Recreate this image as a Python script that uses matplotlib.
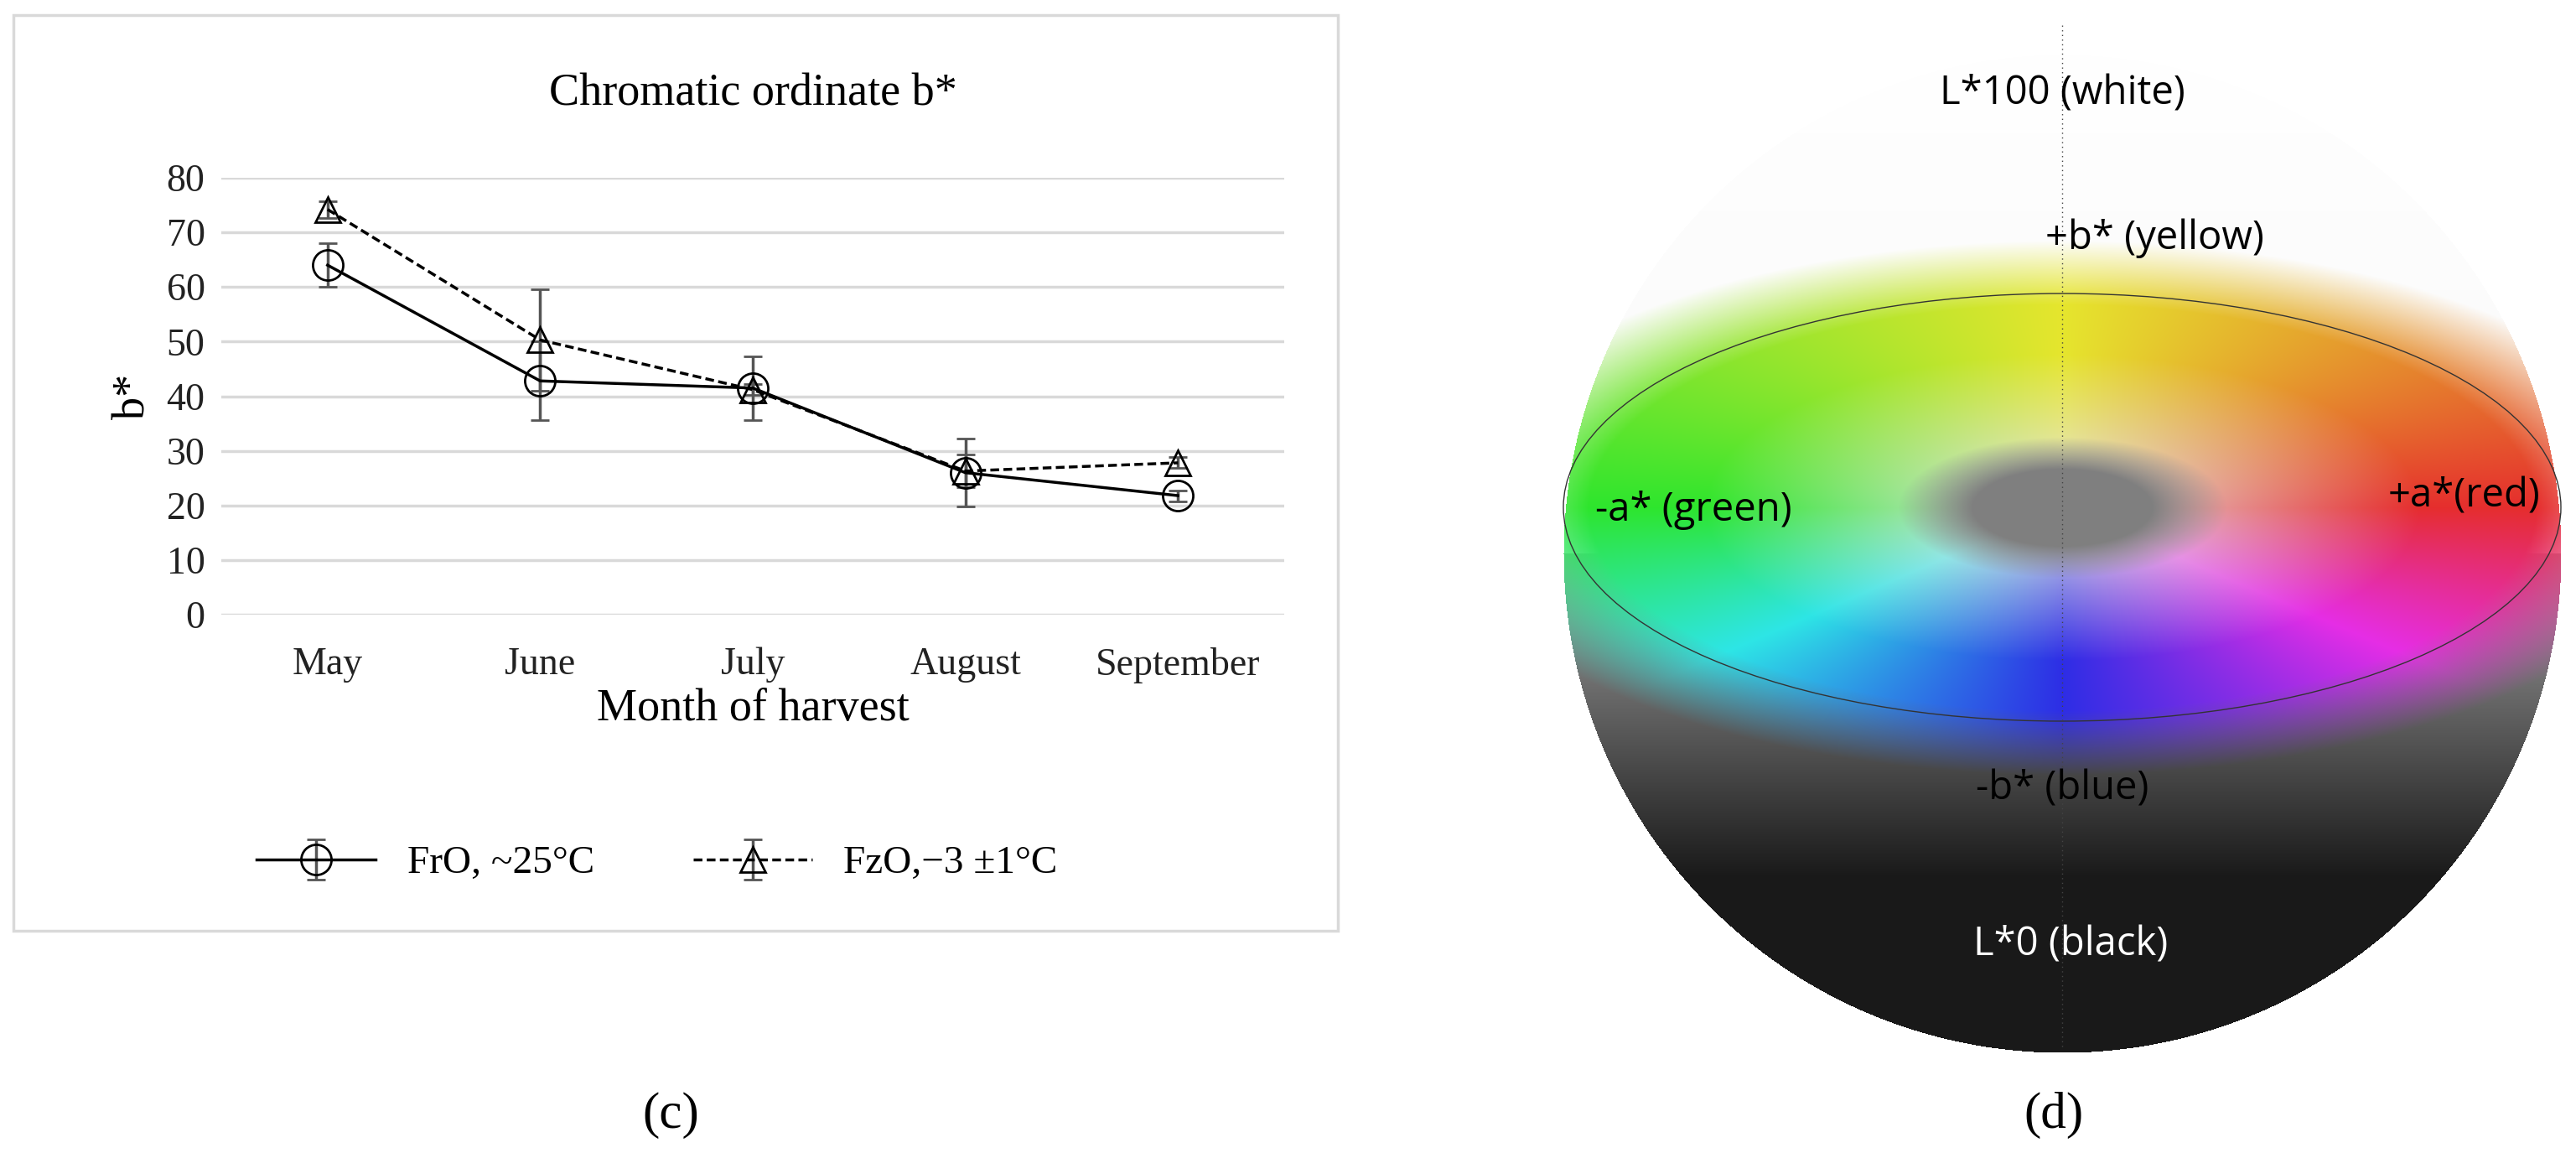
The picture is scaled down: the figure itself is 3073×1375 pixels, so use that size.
import numpy as np
import matplotlib.pyplot as plt
from matplotlib.colors import hsv_to_rgb
from matplotlib.patches import Ellipse

months = ["May", "June", "July", "August", "September"]
fro = [64, 42.8, 41.5, 26, 21.8]
fro_err = [4, 7.2, 5.8, 6.2, 1]
fzo = [74.2, 50.3, 41.2, 26.3, 27.8]
fzo_err = [1.5, 9.3, 1, 3, 1]

W, H = 3073, 1375
fig = plt.figure(figsize=(W / 100, H / 100), dpi=100)
serif = "Liberation Serif"

# panel (c) frame
bg = fig.add_axes([0, 0, 1, 1])
bg.set_xlim(0, W)
bg.set_ylim(H, 0)
bg.axis("off")
bg.add_patch(plt.Rectangle((16, 18), 1580, 1092, fill=False, ec="#d9d9d9", lw=2.5))

ax = fig.add_axes([264 / W, 1 - 733 / H, (1532 - 264) / W, (733 - 212) / H])
x = np.arange(len(months))
ax.errorbar(x, fro, yerr=fro_err, color="black", lw=2.5, marker="o", ms=26,
            mfc="none", mec="black", mew=2, ecolor="#555555", elinewidth=2.5,
            capsize=8, capthick=2.5, label="FrO, ~25°C", zorder=3)
ax.errorbar(x, fzo, yerr=fzo_err, color="black", lw=2.5, ls=(0, (3, 1.5)), marker="^",
            ms=22, mfc="none", mec="black", mew=2, ecolor="#555555", elinewidth=2.5,
            capsize=8, capthick=2.5, label="FzO,\u22123 \u00b11°C", zorder=3)
ax.set_xlim(-0.5, 4.5)
ax.set_ylim(0, 80)
ax.set_yticks(range(0, 81, 10))
ax.set_xticks(x)
ax.set_xticklabels(months)
ax.grid(axis="y", color="#d9d9d9", lw=2.5)
ax.set_axisbelow(True)
for s in ax.spines.values():
    s.set_visible(False)
ax.tick_params(length=0, labelsize=33, labelcolor="#222222", pad=14)
ax.tick_params(axis="x", pad=28)
for t in ax.get_xticklabels() + ax.get_yticklabels():
    t.set_fontfamily(serif)
ax.set_ylabel("b*", fontsize=39, family=serif, labelpad=10)
ax.set_xlabel("Month of harvest", fontsize=39, family=serif, labelpad=4)
ax.set_title("Chromatic ordinate b*", fontsize=39, family=serif, pad=62)
ax.legend(loc="center", bbox_to_anchor=(0.41, -0.57), ncol=2, frameon=False,
          prop={"family": serif, "size": 34}, handlelength=3.0, columnspacing=2.5)
bg.text(800, 1330, "(c)", ha="center", va="center", fontsize=44, family=serif)

# panel (d): colour sphere drawn as an image
cx, cy, r = 2460, 660, 595
ey, ea, eb = 605, 595, 255
xs = np.arange(cx - r, cx + r)
ys = np.arange(cy - r, cy + r)
X, Y = np.meshgrid(xs, ys)
inside = (X - cx) ** 2 + (Y - cy) ** 2 <= r ** 2
dx, dy = (X - cx) / ea, (Y - ey) / eb
rho = np.sqrt(dx ** 2 + dy ** 2)
ang = np.arctan2(-dy, dx) % (2 * np.pi)
hue = np.interp(ang, [0, np.pi / 2, np.pi, 1.5 * np.pi, 2 * np.pi],
                [0, 1 / 6, 1 / 3, 2 / 3, 1]) % 1.0
hsv = np.stack([hue, np.clip(rho * 1.4, 0, 1) * 0.8, np.full_like(hue, 0.9)], -1)
rgb = hsv_to_rgb(hsv)
core = np.clip((rho - 0.18) / 0.15, 0, 1)[..., None]
rgb = rgb * core + 0.5 * (1 - core)
band = np.clip(1 - (rho - 0.95) / 0.3, 0, 1)[..., None]
t = np.clip((Y - (cy - r)) / (2 * r), 0, 1)[..., None]
shade = np.where(t < 0.5, 1.0 - 0.05 * t, np.clip(1.5 - 1.7 * t, 0.1, 1.0))
shade = np.repeat(shade, 3, axis=-1)
img = rgb * band + shade * (1 - band)
rgba = np.concatenate([np.clip(img, 0, 1), inside[..., None].astype(float)], -1)
bg.imshow(rgba, extent=(cx - r, cx + r, cy + r, cy - r), zorder=1)
bg.add_patch(Ellipse((cx, ey), 2 * ea, 2 * eb, fill=False, ec="#333333", lw=1, zorder=2))
bg.plot([cx, cx], [30, 1250], color="#444444", lw=1, ls=(0, (1, 3)), zorder=2)
lab = dict(fontsize=34, family="Open Sans", ha="center", va="center", zorder=3)
bg.text(2460, 112, "L*100 (white)", **lab)
bg.text(2570, 284, "+b* (yellow)", **lab)
bg.text(2020, 608, "-a* (green)", **lab)
bg.text(2940, 592, "+a*(red)", **lab)
bg.text(2460, 941, "-b* (blue)", **lab)
bg.text(2470, 1127, "L*0 (black)", color="white", **lab)
bg.text(2450, 1330, "(d)", ha="center", va="center", fontsize=44, family=serif)

fig.savefig("out.png", dpi=100)
